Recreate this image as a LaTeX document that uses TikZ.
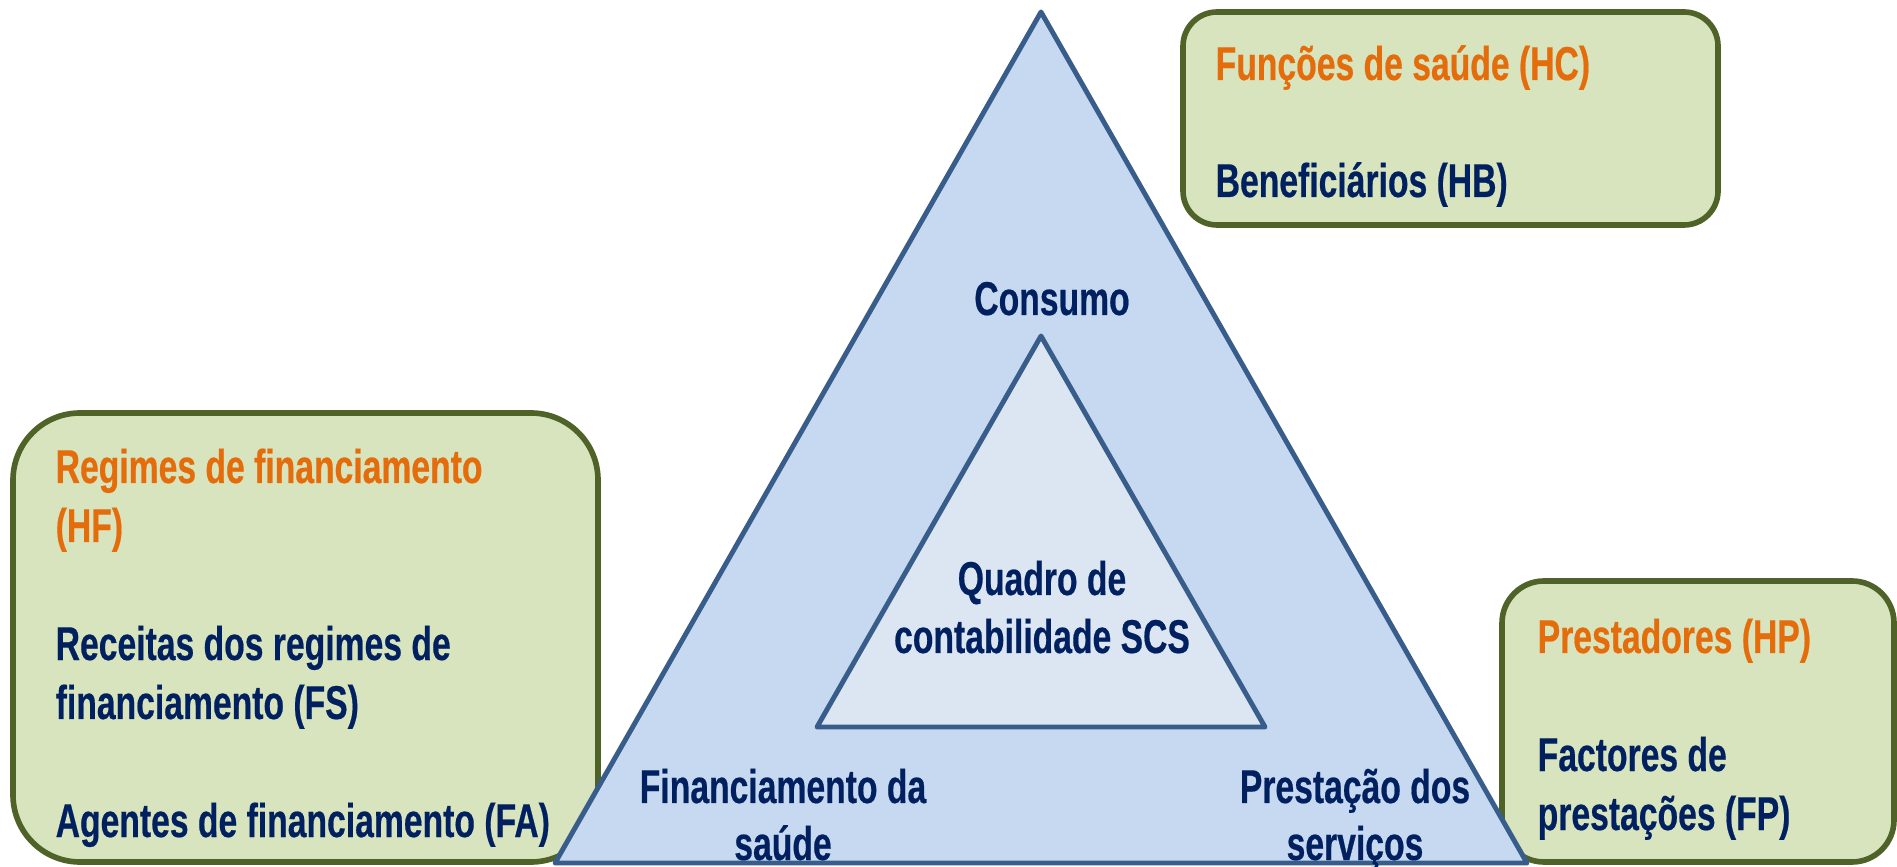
\documentclass[tikz,border=0pt]{standalone}
\usepackage{fontspec}
\setmainfont{Liberation Sans}[FakeStretch=0.71, FakeBold=0.4]
\usetikzlibrary{positioning}
\definecolor{hcorange}{HTML}{E46C0A}
\definecolor{hcnavy}{HTML}{002060}
\definecolor{boxfill}{HTML}{D7E4BD}
\definecolor{boxline}{HTML}{4F6228}
\definecolor{trifill}{HTML}{C6D9F1}
\definecolor{triline}{HTML}{385D8A}
\definecolor{innerfill}{HTML}{DCE6F2}
\tikzset{greenbox/.style={draw=boxline, fill=boxfill, line width=1.6pt, rounded corners=#1}}
\tikzset{tri/.style={draw=triline, line width=1.4pt, line join=round}}
\tikzset{txt/.style={inner sep=0pt, font=\bfseries\fontsize{13.5}{16.8}\selectfont}}
\tikzset{hdr/.style={txt, text=hcorange, anchor=base west}}
\tikzset{itm/.style={txt, text=hcnavy, anchor=base west}}
\tikzset{lbl/.style={txt, text=hcnavy, anchor=base}}

\begin{document}
\begin{tikzpicture}
      \useasboundingbox (0, 0) rectangle (18.97, 8.66);

      \draw [greenbox=0.67cm] (0.13, 4.53) rectangle (5.98, 0.04);
      \draw [greenbox=0.34cm] (11.83, 8.54) rectangle (17.18, 6.41);
      \draw [greenbox=0.42cm] (15.02, 2.85) rectangle (18.94, 0.04);

      \draw [tri, fill=trifill] (10.41, 8.54) -- (15.27, 0.03) -- (5.55, 0.03) -- cycle;
      \draw [tri, fill=innerfill] (10.41, 5.30) -- (12.65, 1.39) -- (8.17, 1.39) -- cycle;

      \node [hdr] (hf1) at (0.55, 3.83) {Regimes de financiamento};
      \node [hdr] (hf2) at (0.55, 3.24) {(HF)};
      \node [itm] (fs1) at (0.55, 2.06) {Receitas dos regimes de};
      \node [itm] (fs2) at (0.55, 1.47) {financiamento (FS)};
      \node [itm] (fa) at (0.55, 0.29) {Agentes de financiamento (FA)};

      \node [hdr] (hc) at (12.15, 7.86) {Funções de saúde (HC)};
      \node [itm] (hb) at (12.15, 6.69) {Beneficiários (HB)};

      \node [hdr] (hp) at (15.37, 2.13) {Prestadores (HP)};
      \node [itm] (fp1) at (15.37, 0.95) {Factores de};
      \node [itm] (fp2) at (15.37, 0.36) {prestações (FP)};

      \node [lbl] (consumo) at (10.52, 5.51) {Consumo};
      \node [lbl] (quadro1) at (10.42, 2.71) {Quadro de};
      \node [lbl] (quadro2) at (10.42, 2.13) {contabilidade SCS};
      \node [lbl] (fin1) at (7.83, 0.63) {Financiamento da};
      \node [lbl] (fin2) at (7.83, 0.06) {saúde};
      \node [lbl] (prest1) at (13.55, 0.63) {Prestação dos};
      \node [lbl] (prest2) at (13.55, 0.06) {serviços};
    \end{tikzpicture}
\end{document}
